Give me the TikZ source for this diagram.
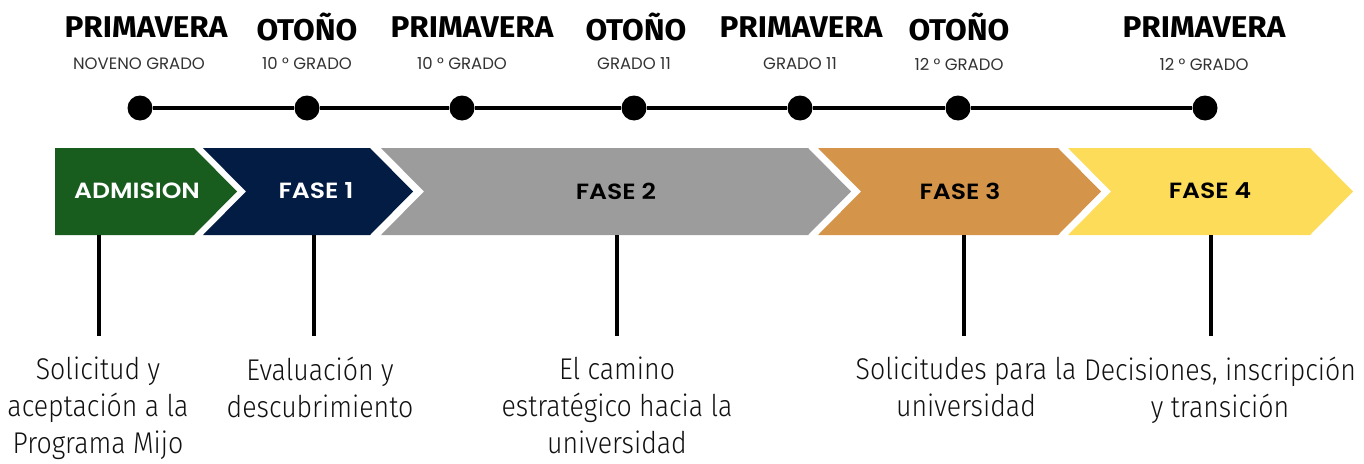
\documentclass[tikz,border=0pt]{standalone}
\usepackage{fontspec}
\usepackage{graphicx}
\setmainfont{Poppins}
\newfontfamily\hfont{Fira Sans}
\newfontfamily\pfont{Poppins SemiBold}
\newfontfamily\bfont[FakeStretch=0.89]{Fira Sans Light}
\definecolor{cgreen}{HTML}{185C1E}
\definecolor{cnavy}{HTML}{021C43}
\definecolor{cgray}{HTML}{9C9C9C}
\definecolor{corange}{HTML}{D4954A}
\definecolor{cyellow}{HTML}{FDDC5A}
\definecolor{csub}{HTML}{333333}
\definecolor{cbody}{HTML}{111111}
\tikzset{
  season/.style={font=\hfont\fontsize{30}{30}\selectfont\bfseries, inner sep=0pt, anchor=center},
  grade/.style={font=\fontsize{16.5}{17}\selectfont, text=csub, inner sep=0pt, anchor=center},
  dot/.style={circle, fill=black, minimum size=25pt, inner sep=0pt},
  tline/.style={line width=3.5pt},
  phase/.style={font=\pfont\fontsize{22}{22}\selectfont, inner sep=0pt, anchor=center},
  stem/.style={line width=4pt},
  desc/.style={font=\bfont\fontsize{30}{37}\selectfont, text=cbody, align=center, inner sep=0pt, anchor=north}
}
\newcommand{\hdr}[1]{\scalebox{1.05}[1]{#1}}
\newcommand{\phs}[1]{\scalebox{1.14}[1]{#1}}
\begin{document}
\begin{tikzpicture}[x=1pt,y=-1pt]
\useasboundingbox (0,0) rectangle (1364,463);
% seasons
\node[season] (h1) at (146,27) {\hdr{PRIMAVERA}};
\node[season] (h2) at (307,27) {\hdr{OTOÑO}};
\node[season] (h3) at (472,27) {\hdr{PRIMAVERA}};
\node[season] (h4) at (636,27) {\hdr{OTOÑO}};
\node[season] (h5) at (801,27) {\hdr{PRIMAVERA}};
\node[season] (h6) at (959,27) {\hdr{OTOÑO}};
\node[season] (h7) at (1204,27) {\hdr{PRIMAVERA}};
% grades
\node[grade] (g1) at (139,64) {NOVENO GRADO};
\node[grade] (g2) at (307,64) {10 ° GRADO};
\node[grade] (g3) at (462,64) {10 ° GRADO};
\node[grade] (g4) at (634,64) {GRADO 11};
\node[grade] (g5) at (800,64) {GRADO 11};
\node[grade] (g6) at (959,64) {12 ° GRADO};
\node[grade] (g7) at (1204,64) {12 ° GRADO};
% timeline dots
\node[dot] (d1) at (140,108) {};
\node[dot] (d2) at (307,108) {};
\node[dot] (d3) at (462,108) {};
\node[dot] (d4) at (634,108) {};
\node[dot] (d5) at (800,108) {};
\node[dot] (d6) at (958,108) {};
\node[dot] (d7) at (1205,108) {};
\draw[tline] (d1) -- (d2) (d2) -- (d3) (d3) -- (d4) (d4) -- (d5) (d5) -- (d6) (d6) -- (d7);
% chevrons
\fill[cgreen] (55,148) -- (194,148) -- (237,191.5) -- (194,235) -- (55,235) -- cycle;
\fill[cnavy] (203,148) -- (370,148) -- (413,191.5) -- (370,235) -- (203,235) -- (246,191.5) -- cycle;
\fill[cgray] (381,148) -- (808,148) -- (851,191.5) -- (808,235) -- (381,235) -- (424,191.5) -- cycle;
\fill[corange] (818,148) -- (1058,148) -- (1101,191.5) -- (1058,235) -- (818,235) -- (861,191.5) -- cycle;
\fill[cyellow] (1068,148) -- (1310,148) -- (1353,191.5) -- (1310,235) -- (1068,235) -- (1111,191.5) -- cycle;
\node[phase, text=white] (p0) at (137,191) {\phs{ADMISION}};
\node[phase, text=white] (p1) at (316,191) {\phs{FASE 1}};
\node[phase, text=black] (p2) at (616,191) {\phs{FASE 2}};
\node[phase, text=black] (p3) at (960,191) {\phs{FASE 3}};
\node[phase, text=black] (p4) at (1210,191) {\phs{FASE 4}};
% stems
\coordinate (s0a) at (99,235);   \coordinate (s0b) at (99,336);
\coordinate (s1a) at (314,235);  \coordinate (s1b) at (314,336);
\coordinate (s2a) at (617,235);  \coordinate (s2b) at (617,336);
\coordinate (s3a) at (964,235);  \coordinate (s3b) at (964,336);
\coordinate (s4a) at (1211,235); \coordinate (s4b) at (1211,336);
\draw[stem] (s0a) -- (s0b);
\draw[stem] (s1a) -- (s1b);
\draw[stem] (s2a) -- (s2b);
\draw[stem] (s3a) -- (s3b);
\draw[stem] (s4a) -- (s4b);
% descriptions
\node[desc] (t0) at (98,357) {Solicitud y\\aceptación a la\\Programa Mijo};
\node[desc] (t1) at (320,357) {Evaluación y\\descubrimiento};
\node[desc] (t2) at (617,357) {El camino\\estratégico hacia la\\universidad};
\node[desc] (t3) at (966,357) {Solicitudes para la\\universidad};
\node[desc] (t4) at (1220,357) {Decisiones, inscripción\\y transición};
\end{tikzpicture}
\end{document}
